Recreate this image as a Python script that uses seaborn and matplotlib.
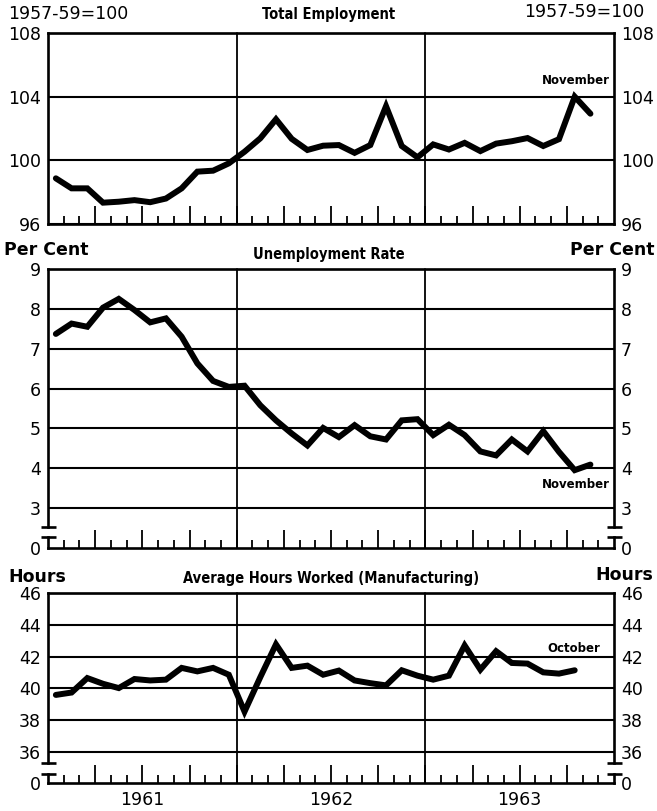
import os
import numpy as np
import pandas as pd
import matplotlib
matplotlib.use("Agg")
import matplotlib.pyplot as plt
import matplotlib.transforms as mtransforms
from matplotlib.lines import Line2D
from matplotlib import font_manager
import seaborn as sns

# ---------------- data ----------------
emp_months = pd.date_range("1961-01-01", "1963-11-01", freq="MS")
employment = [98.87, 98.24, 98.24, 97.34, 97.40, 97.50, 97.37, 97.60, 98.24, 99.29,
              99.35, 99.81, 100.54, 101.38, 102.58, 101.35, 100.65, 100.92, 100.96, 100.47,
              100.96, 103.40, 100.90, 100.19, 101.00, 100.68, 101.10, 100.58, 101.05, 101.20,
              101.40, 100.90, 101.33, 104.00, 102.93]

unemp_months = pd.date_range("1961-01-01", "1963-11-01", freq="MS")
unemployment = [7.37, 7.63, 7.55, 8.03, 8.25, 7.97, 7.66, 7.76, 7.30, 6.63,
                6.19, 6.04, 6.07, 5.58, 5.20, 4.87, 4.57, 5.01, 4.78, 5.08,
                4.80, 4.72, 5.20, 5.23, 4.83, 5.09, 4.83, 4.42, 4.32, 4.72,
                4.42, 4.93, 4.41, 3.95, 4.09]

hours_months = pd.date_range("1961-01-01", "1963-10-01", freq="MS")
hours = [39.59, 39.74, 40.65, 40.29, 40.02, 40.59, 40.50, 40.55, 41.29, 41.07,
         41.29, 40.86, 38.54, 40.70, 42.77, 41.29, 41.43, 40.86, 41.12, 40.50,
         40.33, 40.19, 41.14, 40.80, 40.55, 40.80, 42.70, 41.18, 42.34, 41.60,
         41.56, 41.01, 40.93, 41.14]

year_labels = ["1961", "1962", "1963"]
emp_ticks = [96, 100, 104, 108]
unemp_ticks = [3, 4, 5, 6, 7, 8, 9]
hours_ticks = [36, 38, 40, 42, 44, 46]


def month_pos(dates):
    return (dates.year - 1961) * 12 + (dates.month - 1) + 0.5


df_emp = pd.DataFrame({"x": month_pos(emp_months), "y": employment})
df_un = pd.DataFrame({"x": month_pos(unemp_months), "y": unemployment})
df_hr = pd.DataFrame({"x": month_pos(hours_months), "y": hours})

# ---------------- style ----------------
sns.set_style("white")
plt.rcParams["font.family"] = ["DejaVu Sans"]
plt.rcParams["text.color"] = "black"
plt.rcParams["xtick.color"] = "black"
plt.rcParams["ytick.color"] = "black"
plt.rcParams["axes.labelcolor"] = "black"

# pick a condensed bold face for the panel titles, if one is installed
title_fp = None
prefs = ["LiberationSansNarrow-Bold", "DejaVuSansCondensed-Bold", "RobotoCondensed-Bold",
         "OpenSans_Condensed-Bold", "OpenSansCondensed-Bold", "NotoSans-CondensedBold",
         "Roboto_Condensed-Bold"]
files = {os.path.splitext(os.path.basename(f.fname))[0]: f.fname
         for f in font_manager.fontManager.ttflist}
for p in prefs:
    if p in files:
        title_fp = font_manager.FontProperties(fname=files[p])
        break

W, H = 657, 811
fig = plt.figure(figsize=(W / 100, H / 100), dpi=100)

SPINE_LW = 1.9
GRID_LW = 1.5
LINE_LW = 4.3
TICK_FS = 12.5


def ax_px(left, top, right, bottom):
    return fig.add_axes([left / W, 1 - bottom / H, (right - left) / W, (bottom - top) / H])


def hline_px(x0, x1, y, lw=SPINE_LW):
    fig.add_artist(Line2D([x0 / W, x1 / W], [1 - y / H, 1 - y / H],
                          transform=fig.transFigure, color="black", lw=lw,
                          solid_capstyle="butt"))


def text_px(x, y, s, ha="left", va="center", **kw):
    fig.text(x / W, 1 - y / H, s, ha=ha, va=va, color="black", **kw)


major_x = [k for k in range(3, 36, 3)]
minor_x = [k for k in range(1, 36) if k % 3 != 0]

L, R = 48, 614


def month_ticks(ax):
    ax.set_xticks(major_x)
    ax.set_xticks(minor_x, minor=True)
    ax.tick_params(axis="x", which="both", direction="in", bottom=True, top=False,
                   labelbottom=False, color="black", width=1.3)
    ax.tick_params(axis="x", which="major", length=13)
    ax.tick_params(axis="x", which="minor", length=6)


def main_panel(ax, df, ylim, yticks, bottom_spine, ext_px=0):
    sns.lineplot(data=df, x="x", y="y", ax=ax, color="black", lw=LINE_LW,
                 solid_joinstyle="miter", zorder=5, legend=False)
    ax.set_xlim(0, 36)
    ax.set_ylim(*ylim)
    ax.set_yticks(yticks)
    ax.set_yticklabels([str(v) for v in yticks])
    ax.tick_params(axis="y", length=0, pad=5, labelsize=TICK_FS,
                   labelleft=True, labelright=True, labelcolor="black")
    ax.set_xlabel("")
    ax.set_ylabel("")
    for v in yticks:
        ax.axhline(v, color="black", lw=GRID_LW, zorder=2)
    hpx = ax.get_position().height * H
    for yr in (12, 24):
        ax.axvline(yr, ymin=-ext_px / hpx, ymax=1, color="black", lw=1.3,
                   zorder=2, clip_on=False)
    for s in ["left", "right", "top", "bottom"]:
        ax.spines[s].set_color("black")
        ax.spines[s].set_linewidth(SPINE_LW)
    ax.spines["bottom"].set_visible(bottom_spine)
    if bottom_spine:
        month_ticks(ax)
    else:
        ax.set_xticks([])
    ax.patch.set_alpha(0)


def strip_panel(ax):
    ax.set_xlim(0, 36)
    ax.set_ylim(0, 1)
    ax.set_yticks([0])
    ax.set_yticklabels(["0"])
    ax.tick_params(axis="y", length=0, pad=5, labelsize=TICK_FS,
                   labelleft=True, labelright=True, labelcolor="black")
    for s in ["left", "right", "bottom"]:
        ax.spines[s].set_color("black")
        ax.spines[s].set_linewidth(SPINE_LW)
    ax.spines["top"].set_visible(False)
    month_ticks(ax)
    ax.patch.set_alpha(0)


# ---- Total employment ----
ax1 = ax_px(L, 33, R, 224)
main_panel(ax1, df_emp, (96, 108), emp_ticks, True)

# ---- Unemployment ----
ax2 = ax_px(L, 269, R, 527)
px_per_unit = (508 - 269) / 6
main_panel(ax2, df_un, (3 - (527 - 508) / px_per_unit, 9), unemp_ticks, False, ext_px=21)
ax2s = ax_px(L, 537, R, 548)
strip_panel(ax2s)

# ---- Hours ----
ax3 = ax_px(L, 593, R, 763)
px_per_unit3 = (752 - 593) / 10
main_panel(ax3, df_hr, (36 - (763 - 752) / px_per_unit3, 46), hours_ticks, False, ext_px=20)
ax3s = ax_px(L, 774, R, 783)
strip_panel(ax3s)

# break caps
for ytop, ybot in [(527, 537), (763, 774)]:
    for x in (L, R):
        hline_px(x - 7, x + 8, ytop)
        hline_px(x - 7, x + 8, ybot)

# year labels
tr = mtransforms.blended_transform_factory(ax3s.transData, fig.transFigure)
for k, lab in enumerate(year_labels):
    ax3s.text(12 * k + 6, 1 - 800 / H, lab, transform=tr, ha="center", va="center",
              fontsize=TICK_FS, color="black")

# titles and unit labels
if title_fp is not None:
    title_kw = dict(fontproperties=title_fp.copy())
    title_kw["fontproperties"].set_size(10.5)
else:
    title_kw = dict(fontsize=10, fontweight="bold")
text_px(329, 15, "Total Employment", ha="center", **title_kw)
text_px(329, 255, "Unemployment Rate", ha="center", **title_kw)
text_px(331, 578, "Average Hours Worked (Manufacturing)", ha="center", **title_kw)

text_px(8, 14, "1957-59=100", fontsize=12.5)
text_px(644, 12, "1957-59=100", ha="right", fontsize=12.5)
text_px(4, 250, "Per Cent", fontsize=12.5, fontweight="bold")
text_px(655, 250, "Per Cent", ha="right", fontsize=12.5, fontweight="bold")
text_px(8, 577, "Hours", fontsize=12.5, fontweight="bold")
text_px(653, 575, "Hours", ha="right", fontsize=12.5, fontweight="bold")

text_px(610, 81, "November", ha="right", fontsize=8.5, fontweight="bold")
text_px(610, 485, "November", ha="right", fontsize=8.5, fontweight="bold")
text_px(600, 648, "October", ha="right", fontsize=8.5, fontweight="bold")

fig.savefig("out.png", dpi=100)
